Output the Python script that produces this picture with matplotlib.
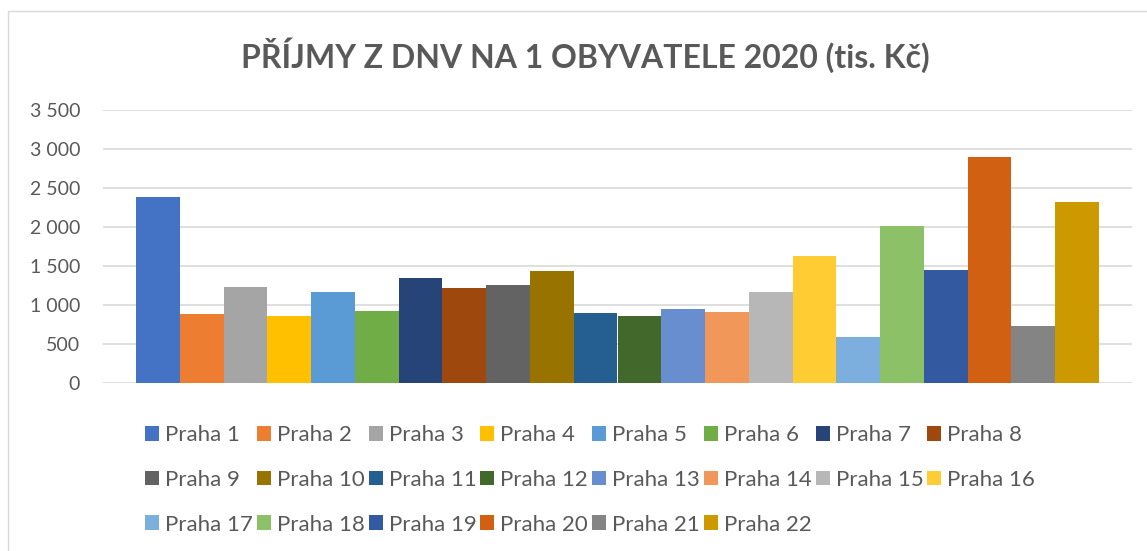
import matplotlib
matplotlib.use("Agg")
import matplotlib.pyplot as plt
from matplotlib.patches import Rectangle
from matplotlib.ticker import FuncFormatter

# Data
districts = [f"Praha {i}" for i in range(1, 23)]
values = [2384, 881, 1228, 856, 1164, 920, 1344, 1216, 1254, 1434, 895,
          856, 946, 908, 1164, 1626, 587, 2011, 1446, 2897, 728, 2320]
colors = ["#4472C4", "#ED7D31", "#A5A5A5", "#FFC000", "#5B9BD5", "#70AD47",
          "#264478", "#9E480E", "#636363", "#997300", "#255E91", "#43682B",
          "#698ED0", "#F1975A", "#B7B7B7", "#FFCD33", "#7CAFDD", "#8CC168",
          "#335AA1", "#D26012", "#848484", "#CC9A00"]
yticks = [0, 500, 1000, 1500, 2000, 2500, 3000, 3500]
title = "PŘÍJMY Z DNV NA 1 OBYVATELE 2020 (tis. Kč)"

plt.rcParams['font.family'] = ['Lato', 'DejaVu Sans']
text_col = "#595959"

W, H = 1147, 551
fig = plt.figure(figsize=(W / 100, H / 100), dpi=100)

# ramecek grafu
fig.patches.append(Rectangle((8 / W, -0.1), 1.2, 1 - 11 / H + 0.1, transform=fig.transFigure,
                             fill=False, edgecolor="#D9D9D9", linewidth=1.0))

ax = fig.add_axes([103 / W, 1 - 383 / H, (1132 - 103) / W, (383 - 110) / H])
x = list(range(len(values)))
bars = ax.bar(x, values, width=1.0, color=colors, label=districts, zorder=3)

ax.set_ylim(0, 3500)
ax.set_xlim(-0.5 - 0.753, 21.5 + 0.753)
ax.set_yticks(yticks)
ax.yaxis.set_major_formatter(FuncFormatter(lambda v, p: f"{int(v):,}".replace(",", " ")))
ax.set_xticks([])
ax.grid(axis="y", color="#D9D9D9", linewidth=1.2, zorder=0)
for s in ax.spines.values():
    s.set_visible(False)
ax.tick_params(axis="y", length=0, pad=16.5, labelsize=14, labelcolor=text_col)

fig.text(585 / W, 1 - 55 / H, title, ha="center", va="center",
         fontsize=23, fontweight="bold", color=text_col)

# legenda po radcich (matplotlib plni po sloupcich)
ncol = 8
order = [i for c in range(ncol) for i in range(c, len(values), ncol)]
handles = [bars[i] for i in order]
labels = [districts[i] for i in order]
leg = fig.legend(handles, labels, ncol=ncol, loc="center", bbox_to_anchor=(590 / W, 1 - 480 / H),
                 frameon=False, fontsize=16, labelcolor=text_col,
                 handlelength=0.63, handleheight=0.63, handletextpad=0.27,
                 columnspacing=0.18, labelspacing=1.105)

fig.savefig("out.png", dpi=100)
